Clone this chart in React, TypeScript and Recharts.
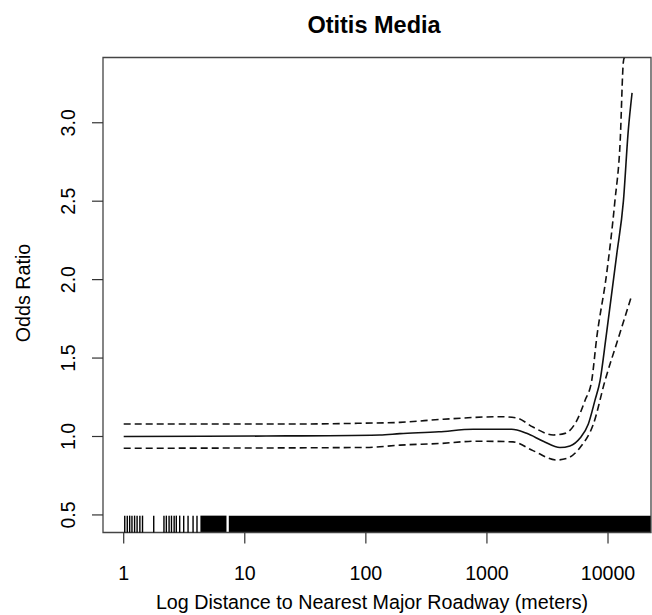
import React from 'react';
import { ComposedChart, Line, XAxis, YAxis, ReferenceLine, ReferenceArea, Label } from 'recharts';

// ---- data ----
const xTicks = [1, 10, 100, 1000, 10000];
const yTicks = [0.5, 1.0, 1.5, 2.0, 2.5, 3.0];
const xDomain: [number, number] = [0.6745, 22650];
const yDomain: [number, number] = [0.388, 3.416];

const fitDistance = [1, 15, 130, 191, 400, 771, 1600, 2130, 2920, 4010, 4850, 5880, 6880, 7800, 8590, 9620, 11800, 13400, 14700, 15800];
const fitOdds = [1.0, 1.003, 1.01, 1.018, 1.03, 1.046, 1.046, 1.02, 0.97, 0.93, 0.94, 0.99, 1.08, 1.23, 1.355, 1.63, 2.16, 2.5, 2.95, 3.19];

const upperDistance = [1, 30, 100, 191, 435, 1280, 1760, 2400, 3530, 4410, 5510, 6460, 7330, 8070, 9750, 11400, 12600, 13400, 13650];
const upperOdds = [1.08, 1.08, 1.085, 1.09, 1.11, 1.126, 1.118, 1.06, 1.01, 1.02, 1.1, 1.23, 1.355, 1.63, 2.04, 2.5, 2.88, 3.39, 3.416];

const lowerDistance = [1, 100, 191, 400, 822, 1640, 2400, 3770, 4570, 5880, 7580, 9440, 12200, 15500];
const lowerOdds = [0.925, 0.93, 0.945, 0.955, 0.97, 0.966, 0.91, 0.85, 0.86, 0.93, 1.08, 1.355, 1.63, 1.886];

const rugSingles = [1.02, 1.07, 1.12, 1.17, 1.23, 1.29, 1.36, 1.43, 1.77, 2.15, 2.25, 2.37, 2.48, 2.61, 2.72, 2.9, 3.13, 3.4, 3.74, 4.03];
const rugDenseStart = [4.3, 7.38];
const rugDenseEnd = [7.06, 22650];

const title = 'Otitis Media';
const xTitle = 'Log Distance to Nearest Major Roadway (meters)';
const yTitle = 'Odds Ratio';

// ---- tables ----
const toRows = (xs: number[], ys: number[]) => xs.map((d, i) => ({ distance: d, odds: ys[i] }));
const fitData = toRows(fitDistance, fitOdds);
const upperData = toRows(upperDistance, upperOdds);
const lowerData = toRows(lowerDistance, lowerOdds);
const rugTop = yDomain[0] + 0.0355 * (yDomain[1] - yDomain[0]);

const FONT = '"Liberation Sans", Arial, Helvetica, sans-serif';

const XTick = (props: any) => {
  const { x, y, payload } = props;
  return (
    <text x={x} y={y + 34} textAnchor="middle" fontFamily={FONT} fontSize={19.6} fill="#000">
      {String(payload.value)}
    </text>
  );
};

const YTick = (props: any) => {
  const { x, y, payload } = props;
  const bx = x - 15;
  return (
    <text
      x={bx}
      y={y}
      textAnchor="middle"
      transform={`rotate(-90, ${bx}, ${y})`}
      fontFamily={FONT}
      fontSize={19.6}
      fill="#000"
    >
      {Number(payload.value).toFixed(1)}
    </text>
  );
};

const XTitle = (props: any) => {
  const vb = props.viewBox || {};
  return (
    <text
      x={vb.x + vb.width / 2 - 5}
      y={vb.y + 76}
      textAnchor="middle"
      fontFamily={FONT}
      fontSize={19.7}
      fill="#000"
    >
      {xTitle}
    </text>
  );
};

const YTitle = (props: any) => {
  const vb = props.viewBox || {};
  const cx = vb.x - 13;
  const cy = vb.y + vb.height / 2 - 2;
  return (
    <text
      x={cx}
      y={cy}
      textAnchor="middle"
      transform={`rotate(-90, ${cx}, ${cy})`}
      fontFamily={FONT}
      fontSize={19.7}
      fill="#000"
    >
      {yTitle}
    </text>
  );
};

export default function App() {
  return (
    <div style={{ position: 'absolute', left: 0, top: 0, width: 652, height: 615, background: '#fff' }}>
      <div
        style={{
          position: 'absolute',
          left: 103,
          width: 542,
          top: 12,
          textAlign: 'center',
          fontFamily: FONT,
          fontWeight: 'bold',
          fontSize: 23.5,
          lineHeight: 'normal',
          color: '#000',
        }}
      >
        {title}
      </div>
      <ComposedChart
        width={652}
        height={615}
        margin={{ top: 57.5, right: 1, bottom: 32.5, left: 43 }}
        style={{ position: 'absolute', left: 0, top: 0 }}
      >
        <XAxis
          dataKey="distance"
          type="number"
          scale="log"
          domain={xDomain}
          allowDataOverflow
          ticks={xTicks}
          interval={0}
          height={50}
          axisLine={false}
          tickLine={{ stroke: '#333', strokeWidth: 1.2 }}
          tickSize={11}
          tick={<XTick />}
        >
          <Label content={<XTitle />} />
        </XAxis>
        <YAxis
          type="number"
          domain={yDomain}
          allowDataOverflow
          ticks={yTicks}
          interval={0}
          width={60}
          axisLine={false}
          tickLine={{ stroke: '#333', strokeWidth: 1.2 }}
          tickSize={11}
          tick={<YTick />}
        >
          <Label content={<YTitle />} />
        </YAxis>

        {rugDenseStart.map((s, i) => (
          <ReferenceArea
            key={`dense-${i}`}
            x1={s}
            x2={rugDenseEnd[i]}
            y1={yDomain[0]}
            y2={rugTop}
            fill="#000"
            fillOpacity={1}
            stroke="none"
            ifOverflow="visible"
          />
        ))}
        {rugSingles.map((v, i) => (
          <ReferenceLine
            key={`rug-${i}`}
            segment={[
              { x: v, y: yDomain[0] },
              { x: v, y: rugTop },
            ]}
            stroke="#000"
            strokeWidth={1.4}
            ifOverflow="visible"
          />
        ))}

        <Line
          data={upperData}
          dataKey="odds"
          type="monotone"
          stroke="#111"
          strokeWidth={1.6}
          strokeDasharray="7 4"
          dot={false}
          activeDot={false}
          isAnimationActive={false}
        />
        <Line
          data={lowerData}
          dataKey="odds"
          type="monotone"
          stroke="#111"
          strokeWidth={1.6}
          strokeDasharray="7 4"
          dot={false}
          activeDot={false}
          isAnimationActive={false}
        />
        <Line
          data={fitData}
          dataKey="odds"
          type="monotone"
          stroke="#111"
          strokeWidth={1.6}
          dot={false}
          activeDot={false}
          isAnimationActive={false}
        />

        <ReferenceArea
          x1={xDomain[0]}
          x2={xDomain[1]}
          y1={yDomain[0]}
          y2={yDomain[1]}
          fill="none"
          fillOpacity={0}
          stroke="#444"
          strokeWidth={1.3}
          ifOverflow="visible"
        />
      </ComposedChart>
    </div>
  );
}
